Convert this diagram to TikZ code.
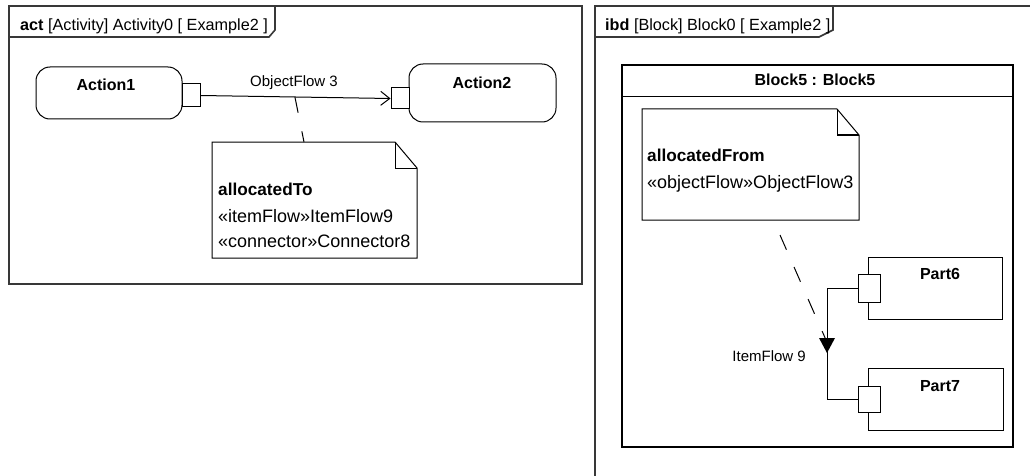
\documentclass[tikz,border=0pt]{standalone}
\usepackage{fontspec}
\setmainfont{Liberation Sans}
\usetikzlibrary{arrows.meta}

\tikzset{
  frame/.style={draw=black!78,line width=1.6pt},
  actbox/.style={draw,line width=1pt,rounded corners=14pt,inner sep=0pt},
  pinbox/.style={draw,fill=white,line width=1pt,inner sep=0pt},
  partbox/.style={draw,line width=1pt,inner sep=0pt},
  ttl/.style={font=\fontsize{16}{19}\selectfont\bfseries,inner sep=0pt},
  hdr/.style={font=\fontsize{16.2}{19}\selectfont,inner sep=0pt},
  txt/.style={font=\fontsize{18}{21}\selectfont,inner sep=0pt},
  txtb/.style={font=\fontsize{17.2}{21}\selectfont\bfseries,inner sep=0pt},
  lbl/.style={font=\fontsize{15}{18}\selectfont,inner sep=0pt},
  trace/.style={line width=1pt,dash pattern=on 16pt off 19pt},
}

\begin{document}
\begin{tikzpicture}[x=1pt,y=-1pt,line join=miter]
  \useasboundingbox (0,0) rectangle (1030,476);
  \fill[white] (0,0) rectangle (1030,476);

  % activity frame
  \draw[frame] (9,6) rectangle (582,284);
  \draw[frame] (9,37) -- (269,37) -- (275,30) -- (275,6);
  \node[hdr,anchor=base west] (acthdr) at (20,31) {\textbf{act} [Activity] Activity0 [ Example2 ]};

  % actions and pins
  \node[actbox,minimum width=146pt,minimum height=52pt] (act1) at (109,93) {};
  \node[actbox,minimum width=147pt,minimum height=58pt] (act2) at (482.5,93) {};
  \node[ttl,anchor=base] (act1t) at (106,91) {Action1};
  \node[ttl,anchor=base] (act2t) at (482,89) {Action2};
  \node[pinbox,minimum width=18pt,minimum height=23pt] (pin1) at (191,95.5) {};
  \node[pinbox,minimum width=18pt,minimum height=21pt] (pin2) at (400,98.5) {};
  \draw[line width=1pt,-{Straight Barb[length=9pt,width=14pt,line width=1pt]}] (pin1.east) -- (pin2.west)
    coordinate[pos=.497] (of3);
  \node[lbl] (of3t) at (294,83) {ObjectFlow 3};

  % note: allocatedTo
  \coordinate (n1a) at (212,142);
  \coordinate (n1b) at (417,258);
  \coordinate (n1f) at (395,168);
  \draw[line width=1pt] (n1a) -- (n1f |- n1a) -- (n1b |- n1f) -- (n1b) -- (n1a |- n1b) -- cycle;
  \draw[line width=1pt] (n1f |- n1a) -- (n1f) -- (n1b |- n1f);
  \node[txtb,anchor=base west] (n1t1) at (218,195) {allocatedTo};
  \node[txt,anchor=base west] (n1t2) at (218,222) {«itemFlow»ItemFlow9};
  \node[txt,anchor=base west] (n1t3) at (218,247) {«connector»Connector8};
  \coordinate (n1top) at (304,142);
  \draw[trace] (of3) -- (n1top);

  % internal block frame
  \begin{scope}
    \clip (0,0) rectangle (1030,476);
    \draw[frame] (1040,6) -- (595,6) -- (595,490);
  \end{scope}
  \draw[frame] (595,37) -- (819,37) -- (833,30) -- (833,6);
  \node[hdr,anchor=base west] (ibdhdr) at (605,31) {\textbf{ibd} [Block] Block0 [ Example2 ]};

  % block
  \draw[line width=1.2pt] (622,65) rectangle (1013,447);
  \draw[line width=1pt] (622,97) -- (1013,97);
  \node[ttl,anchor=base] (blk5t) at (815,86) {Block5 : Block5};

  % note: allocatedFrom
  \coordinate (n2a) at (642,109);
  \coordinate (n2b) at (859,220);
  \coordinate (n2f) at (837,135);
  \draw[line width=1pt] (n2a) -- (n2f |- n2a) -- (n2b |- n2f) -- (n2b) -- (n2a |- n2b) -- cycle;
  \draw[line width=1pt] (n2f |- n2a) -- (n2f) -- (n2b |- n2f);
  \node[txtb,anchor=base west] (n2t1) at (647,161) {allocatedFrom};
  \node[txt,anchor=base west] (n2t2) at (647,188) {«objectFlow»ObjectFlow3};

  % parts and ports
  \node[partbox,minimum width=134pt,minimum height=62pt] (part6) at (935,288) {};
  \node[partbox,minimum width=135pt,minimum height=62pt] (part7) at (935.5,399) {};
  \node[ttl,anchor=base] (part6t) at (940,279) {Part6};
  \node[ttl,anchor=base] (part7t) at (940,391) {Part7};
  \node[pinbox,minimum width=22pt,minimum height=28pt] (pin6) at (869,288) {};
  \node[pinbox,minimum width=22pt,minimum height=26pt] (pin7) at (869,399) {};

  % item flow connector
  \coordinate (ifx) at (827,345);
  \draw[line width=1pt] (pin6.west) -| (ifx) |- (pin7.west);
  \coordinate (iftip) at (827,353);
  \fill (iftip) -- ++(-8,-15) -- ++(16,0) -- cycle;
  \node[lbl,anchor=east] (if9t) at (806,356) {ItemFlow 9};

  \coordinate (n2bot) at (780,235);
  \coordinate (ifanc) at (826,340);
  \draw[trace] (n2bot) -- (ifanc);
\end{tikzpicture}
\end{document}
